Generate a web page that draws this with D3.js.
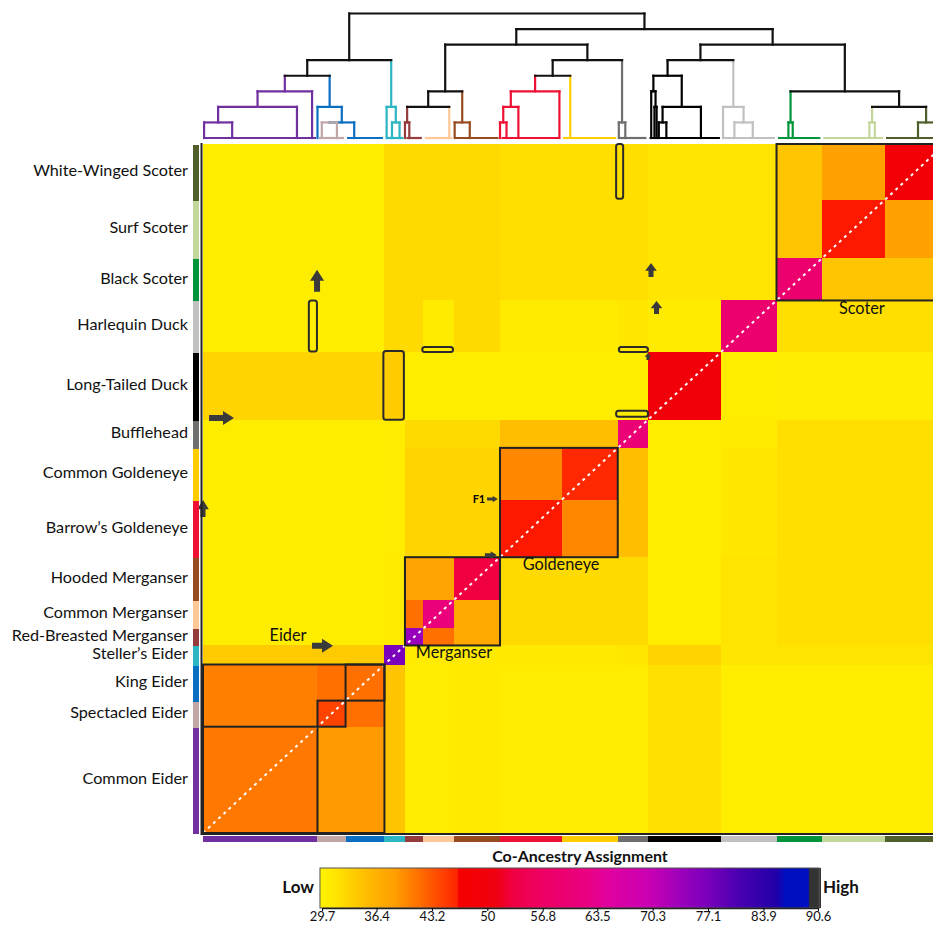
<!DOCTYPE html>
<html><head><meta charset="utf-8">
<script src="https://cdn.jsdelivr.net/npm/d3@7"></script>
<style>body{margin:0;background:#fff}svg{display:block}</style>
</head><body><svg id="c" width="933" height="928"></svg>
<script>
// ---------------- DATA ----------------
const species = ["Common Eider","Spectacled Eider","King Eider","Steller\u2019s Eider","Red-Breasted Merganser","Common Merganser","Hooded Merganser","Barrow\u2019s Goldeneye","Common Goldeneye","Bufflehead","Long-Tailed Duck","Harlequin Duck","Black Scoter","Surf Scoter","White-Winged Scoter"];
const codes = ["CE","SpE","KE","StE","RBM","CM","HM","BG","CG","BH","LTD","HD","BS","SS","WWS"];
const sampleCounts = [106,26,36,19,17,28,43,57,52,28,68,51,42,58,56];
const speciesColors = ["#7030a0","#c2a6a6","#0a6fc0","#2cb5c3","#953b3b","#ffc896","#974b1e","#ee1133","#ffcc00","#6e6e6e","#000000","#c0c0c0","#00953b","#c4d79b","#4f5e2a"];

// mean co-ancestry between species blocks: rows = y species, columns = x species
const coAncestry = [
 [41.0,38.8,38.8,34.3,30.3,30.3,30.6,30.3,30.3,30.3,31.8,30.2,30.2,30.2,30.2],
 [40.5,44.3,41.5,34.3,30.3,30.3,30.6,30.3,30.3,30.3,31.8,30.2,30.2,30.2,30.2],
 [40.5,41.5,41.5,34.3,30.3,30.3,30.6,30.3,30.3,30.3,31.8,30.2,30.2,30.2,30.2],
 [33.6,33.6,33.6,77.0,30.5,30.5,30.8,30.8,30.8,31.0,33.0,31.2,31.5,31.5,31.5],
 [30.2,30.2,30.2,30.4,74.0,41.5,37.3,32.3,32.3,32.3,30.2,31.5,32.0,32.0,32.0],
 [30.2,30.2,30.2,30.4,41.5,61.0,37.3,32.3,32.3,32.3,30.2,31.5,32.0,32.0,32.0],
 [30.2,30.2,30.2,30.4,38.0,38.0,53.0,32.3,32.3,32.3,30.2,31.5,32.0,32.0,32.0],
 [30.2,30.2,30.2,30.3,32.8,32.8,32.8,46.3,40.0,35.0,30.2,31.0,32.0,32.0,32.0],
 [30.2,30.2,30.2,30.3,32.8,32.8,32.8,40.0,46.0,35.0,30.2,31.0,32.0,32.0,32.0],
 [30.2,30.2,30.2,30.3,32.3,32.3,32.3,34.8,34.8,60.0,30.2,30.4,32.0,32.0,32.0],
 [32.8,32.8,32.8,33.5,30.2,30.2,30.2,30.2,30.2,30.2,49.3,30.2,30.3,30.3,30.3],
 [30.2,30.2,30.2,32.3,32.3,30.5,32.3,30.4,30.4,31.0,30.4,58.5,32.0,32.0,32.0],
 [30.2,30.2,30.2,32.3,32.3,32.3,32.3,32.0,32.0,32.0,31.3,31.5,58.5,34.2,34.2],
 [30.2,30.2,30.2,32.3,32.3,32.3,32.3,32.0,32.0,32.0,31.3,31.5,34.2,46.3,38.3],
 [30.2,30.2,30.2,32.3,32.3,32.3,32.3,32.0,32.0,32.0,31.3,31.5,34.2,38.3,48.5]
];

// colour scale stops (value -> colour)
const colorStops      = [29.7,31.5,33.5,36.4,38.5,40.5,42.5,44.5,46.2,46.5,51,53,56,62,65,70,74,77,81,85.5,86.5,89.3,89.6,90.6];
const colorStopColors = ["#fff000","#ffe400","#ffcc00","#ffb000","#ffa000","#ff8000","#ff6000","#ff4000","#ff2500","#f60000","#f00010","#f00040","#ee0060","#ea0080","#e000a0","#c800b4","#9900bb","#7a00bb","#4800b0","#2000a8","#0010c0","#0010c0","#333333","#333333"];
const legendTicks = [29.7,36.4,43.2,50,56.8,63.5,70.3,77.1,83.9,90.6];

// dendrogram: [level, colour code, left, right]; leaves = sample position (or [position, code])
const dendrogram = [8,"k",
  [5,"k",
    [4,"k",
      [3,"CE",[2,"CE",[1,"CE",1,27],87],101],
      [2,"KE",106,[1,"KE",[1,"SpE",110,124],140]]],
    [2,"StE",170,[1,"StE",175,182]]],
  [7,"k",
    [6,"k",
      [3,"k",[2,"k",[1,"RBM",187,191],[228,"CM"]],[1,"HM",233,247]],
      [5,"k",[4,"k",[3,"BG",[2,"BG",[1,"BG",275,281],292],330],[340,"CG"]],[1,"BH",385,391]]],
    [6,"k",
      [5,"k",[4,"LTD",[3,"LTD",415,[2,"LTD",418,420]],[2,"LTD",[1,"LTD",422,429],461]],[2,"HD",481.5,[1,"HD",492,509]]],
      [3,"k",[1,"BS",542,546],[2,"k",[1,"SS",617,622],[1,"WWS",662,677]]]]]];

// annotations in sample coordinates
const highlightBoxes = [[98,105.5,480,531],[167,186,412,480.5],[203,231.5,479.6,484.6],[382.5,389,632.5,687],[385,412,479.6,484.6],[382.5,412,415,421]];
const groupBoxes = [[0,2],[0,0],[1,1],[2,2],[4,6],[7,8],[12,14]];
const groupLabels = [{t:"Scoter",sx:610,sy:521.5},{t:"Goldeneye",sx:331.5,sy:266.2},{t:"Merganser",sx:232.4,sy:178.5},{t:"Eider",sx:78.7,sy:195.4}];
// arrows: from (sx0,sy0) to tip (sx1,sy1), size
const arrows = [
  {sx0:105.6,sy0:539.8,sx1:105.6,sy1:561.7,w:1},
  {sx0:414.8,sy0:554.4,sx1:414.8,sy1:568.3,w:0.8},
  {sx0:419.9,sy0:517.5,sx1:419.9,sy1:530.5,w:0.8},
  {sx0:5.6,sy0:413.8,sx1:28.7,sy1:413.8,w:1},
  {sx0:100.9,sy0:186.7,sx1:120.4,sy1:186.7,w:1},
  {sx0:0,sy0:315,sx1:0,sy1:332,w:0.8},
  {sx0:261,sy0:277.2,sx1:272,sy1:277.2,w:0.45},
  {sx0:263,sy0:333,sx1:273,sy1:333,w:0.35},
  {sx0:412,sy0:471.6,sx1:412,sy1:478.6,w:0.4}
];
const f1Label = {t:"F1",sx:255.5,sy:332};

// ---------------- DRAW ----------------
const svg = d3.select("#c");
const total = d3.sum(sampleCounts);
const cum = [0]; sampleCounts.forEach(n => cum.push(cum[cum.length-1]+n));
const x = d3.scaleLinear().domain([0,total]).range([203,945]);
const y = d3.scaleLinear().domain([0,total]).range([833,144]);
const color = d3.scaleLinear().domain(colorStops).range(colorStopColors).clamp(true);
const spColor = {}; codes.forEach((c,i)=>spColor[c]=speciesColors[i]); spColor.k="#111";
const FONT = "Lato, 'Open Sans', sans-serif";

// heatmap
const cells = [];
coAncestry.forEach((row,i)=>row.forEach((v,j)=>cells.push({i,j,v})));
const X = s => Math.round(x(s)), Y = s => Math.round(y(s));
svg.append("g").selectAll("rect").data(cells).join("rect")
  .attr("x", d=>X(cum[d.j])).attr("width", d=>X(cum[d.j+1])-X(cum[d.j]))
  .attr("y", d=>Y(cum[d.i+1])).attr("height", d=>Y(cum[d.i])-Y(cum[d.i+1]))
  .attr("fill", d=>color(d.v)).attr("shape-rendering","crispEdges");

// diagonal
svg.append("line").attr("x1",x(0)).attr("y1",y(0)).attr("x2",x(total)).attr("y2",y(total))
  .attr("stroke","#fff").attr("stroke-width",2).attr("stroke-dasharray","3,4");

// group boxes
svg.append("g").selectAll("rect").data(groupBoxes).join("rect")
  .attr("x",d=>x(cum[d[0]])).attr("y",d=>y(cum[d[1]+1]))
  .attr("width",d=>x(cum[d[1]+1])-x(cum[d[0]])).attr("height",d=>y(cum[d[0]])-y(cum[d[1]+1]))
  .attr("fill","none").attr("stroke","#222").attr("stroke-width",2);

// highlight boxes
svg.append("g").selectAll("rect").data(highlightBoxes).join("rect")
  .attr("x",d=>x(d[0])).attr("y",d=>y(d[3])).attr("width",d=>x(d[1])-x(d[0])).attr("height",d=>y(d[2])-y(d[3]))
  .attr("rx",2.5).attr("fill","none").attr("stroke","#2a2a2a").attr("stroke-width",2);

// arrows
function arrowPath(d){
  const x0=x(d.sx0), y0=y(d.sy0), x1=x(d.sx1), y1=y(d.sy1);
  const len=Math.hypot(x1-x0,y1-y0), ang=Math.atan2(y1-y0,x1-x0);
  const hw=6*d.w+1, sw=2.4*d.w+0.6, hl=Math.min(9*d.w+2,len*0.55);
  const pts=[[0,-sw],[len-hl,-sw],[len-hl,-hw],[len,0],[len-hl,hw],[len-hl,sw],[0,sw]];
  return "M"+pts.map(p=>[x0+p[0]*Math.cos(ang)-p[1]*Math.sin(ang), y0+p[0]*Math.sin(ang)+p[1]*Math.cos(ang)].join(",")).join("L")+"Z";
}
svg.append("g").selectAll("path").data(arrows).join("path").attr("d",arrowPath).attr("fill","#3a3a3a");

svg.append("text").attr("x",x(f1Label.sx)).attr("y",y(f1Label.sy)).attr("text-anchor","middle")
  .attr("dominant-baseline","middle").attr("font-family",FONT).attr("font-weight","bold").attr("font-size",11).text(f1Label.t);

svg.append("g").selectAll("text").data(groupLabels).join("text")
  .attr("x",d=>x(d.sx)).attr("y",d=>y(d.sy)).attr("text-anchor","middle").attr("dominant-baseline","middle")
  .attr("font-family",FONT).attr("font-size",16.3).attr("fill","#111").text(d=>d.t);

// heatmap frame (left & bottom)
svg.append("line").attr("x1",201.5).attr("x2",201.5).attr("y1",143).attr("y2",835).attr("stroke","#222").attr("stroke-width",2);
svg.append("line").attr("x1",201).attr("x2",945).attr("y1",834).attr("y2",834).attr("stroke","#222").attr("stroke-width",2);

// side bars
const spIdx = d3.range(species.length);
svg.append("g").selectAll("rect").data(spIdx).join("rect")
  .attr("x",193).attr("width",6).attr("y",i=>y(cum[i+1])+1).attr("height",i=>y(cum[i])-y(cum[i+1]))
  .attr("fill",i=>speciesColors[i]).attr("shape-rendering","crispEdges");
svg.append("g").selectAll("rect").data(spIdx).join("rect")
  .attr("y",836).attr("height",6).attr("x",i=>x(cum[i])).attr("width",i=>x(cum[i+1])-x(cum[i]))
  .attr("fill",i=>speciesColors[i]).attr("shape-rendering","crispEdges");

// species labels
svg.append("g").selectAll("text").data(spIdx).join("text")
  .attr("x",188).attr("y",i=>(y(cum[i])+y(cum[i+1]))/2).attr("text-anchor","end").attr("dominant-baseline","middle")
  .attr("font-family",FONT).attr("font-size",16.2).attr("fill","#111").text(i=>species[i]);

// dendrogram
const dy = d3.scaleLinear().domain([0,8]).range([138,13.5]);
function build(node, parentCode){
  if (typeof node === "number") return {h:0, s:node, code:parentCode};
  if (node.length===2) return {h:0, s:node[0], code:node[1]};
  const [h, code, a, b] = node;
  const A = build(a, code), B = build(b, code);
  return {h, code, children:[A,B], s:(A.s+B.s)/2};
}
const tree = build(dendrogram, "k");
const dg = svg.append("g").attr("fill","none").attr("stroke-width",2.2).attr("stroke-linecap","square");
function draw(n){
  if(!n.children) return;
  n.children.forEach(c=>{
    dg.append("line").attr("x1",x(c.s)).attr("x2",x(c.s)).attr("y1",dy(c.h)).attr("y2",dy(n.h)).attr("stroke",spColor[c.code]);
  });
  dg.append("line").attr("x1",x(n.children[0].s)).attr("x2",x(n.children[1].s)).attr("y1",dy(n.h)).attr("y2",dy(n.h)).attr("stroke",spColor[n.code]);
  n.children.forEach(draw);
}
draw(tree);
svg.append("g").selectAll("line").data(spIdx).join("line")
  .attr("x1",i=>x(cum[i])+1.5).attr("x2",i=>x(cum[i+1])-1.5).attr("y1",dy(0)).attr("y2",dy(0))
  .attr("stroke",i=>speciesColors[i]).attr("stroke-width",2.2);

// colour legend
const lx = d3.scaleLinear().domain([29.7,90.6]).range([322,818]);
const steps = d3.range(29.45,90.8,0.1);
svg.append("g").selectAll("rect").data(steps).join("rect")
  .attr("x",v=>lx(v)).attr("width",lx(29.8)-lx(29.7)+0.6).attr("y",868).attr("height",40)
  .attr("fill",v=>color(v)).attr("shape-rendering","crispEdges");
svg.append("rect").attr("x",lx(29.45)).attr("y",868).attr("width",lx(90.75)-lx(29.45)).attr("height",40)
  .attr("fill","none").attr("stroke","#555").attr("stroke-width",1);
const ax = svg.append("g").attr("transform","translate(0,908)")
  .call(d3.axisBottom(lx).tickValues(legendTicks).tickFormat(d=>d).tickSize(3).tickSizeOuter(0));
ax.select(".domain").attr("stroke","#222").attr("stroke-width",1.5);
ax.selectAll("text").attr("font-family",FONT).attr("font-size",13).attr("fill","#111").attr("dy","0.5em");
svg.append("text").attr("x",580).attr("y",858).attr("text-anchor","middle").attr("dominant-baseline","middle")
  .attr("font-family",FONT).attr("font-weight","bold").attr("font-size",16).attr("fill","#111").text("Co-Ancestry Assignment");
svg.append("text").attr("x",314).attr("y",889).attr("text-anchor","end").attr("dominant-baseline","middle")
  .attr("font-family",FONT).attr("font-weight","bold").attr("font-size",17).attr("fill","#111").text("Low");
svg.append("text").attr("x",823).attr("y",889).attr("text-anchor","start").attr("dominant-baseline","middle")
  .attr("font-family",FONT).attr("font-weight","bold").attr("font-size",17).attr("fill","#111").text("High");
</script></body></html>
